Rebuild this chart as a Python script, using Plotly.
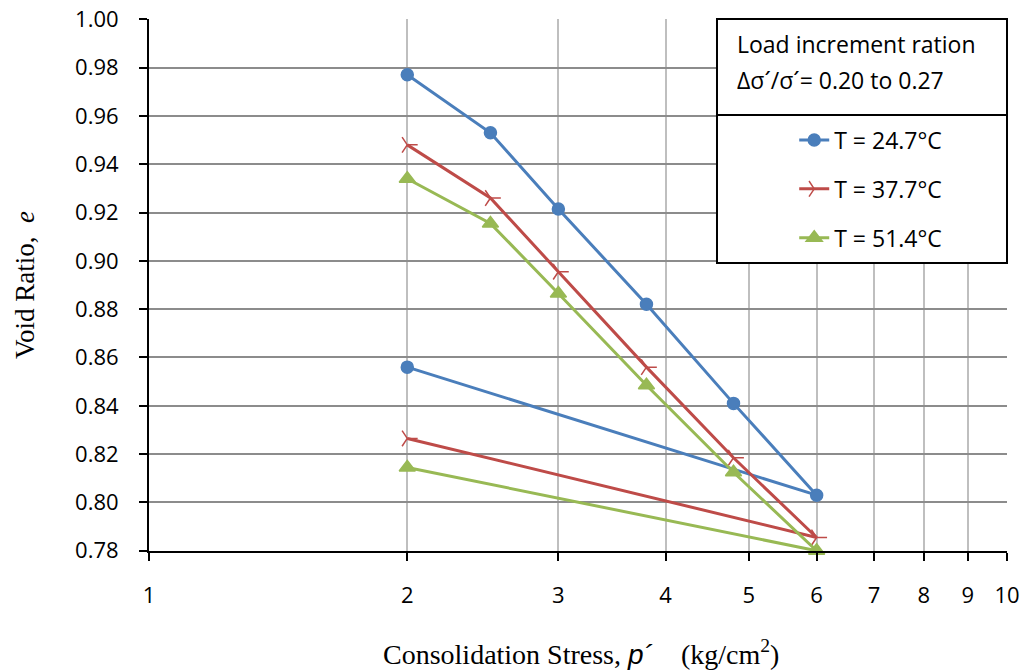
import plotly.graph_objects as go

# Data (loading path then unloading back to 2)
stress = [2, 2.5, 3, 3.8, 4.8, 6, 2]
e_247 = [0.977, 0.953, 0.9215, 0.882, 0.841, 0.803, 0.856]
e_377 = [0.948, 0.926, 0.8955, 0.856, 0.8185, 0.7855, 0.8265]
e_514 = [0.934, 0.9155, 0.8865, 0.8485, 0.8125, 0.780, 0.8145]
names = ["T = 24.7°C", "T = 37.7°C", "T = 51.4°C"]
x_ticks = [1, 2, 3, 4, 5, 6, 7, 8, 9, 10]
y_ticks = [0.78, 0.80, 0.82, 0.84, 0.86, 0.88, 0.90, 0.92, 0.94, 0.96, 0.98, 1.00]

colors = ["#4A7EBB", "#BE4B48", "#98B954"]
symbols = ["circle", "y-right-open", "triangle-up"]
sizes = [12, 13, 14]

fig = go.Figure()
for i, (ys, nm) in enumerate(zip([e_247, e_377, e_514], names)):
    fig.add_trace(go.Scatter(
        x=stress, y=ys, name=nm, mode="lines+markers",
        line=dict(color=colors[i], width=3),
        marker=dict(symbol=symbols[i], size=sizes[i], color=colors[i],
                    line=dict(color=colors[i], width=1.5)),
        cliponaxis=False, legendgroup=f"g{i}",
    ))

FONT = "Open Sans, Lato, sans-serif"
tick_font = dict(family=FONT, size=22, color="black")

fig.update_layout(
    width=1024, height=671,
    margin=dict(l=149, r=17, t=19, b=120, autoexpand=False),
    paper_bgcolor="white", plot_bgcolor="white",
    showlegend=True,
    legend=dict(
        x=0.752, y=0.813, xanchor="left", yanchor="top",
        bgcolor="rgba(0,0,0,0)", borderwidth=0,
        font=dict(family=FONT, size=23, color="black"),
        tracegroupgap=16, traceorder="grouped",
    ),
    xaxis=dict(
        type="log", range=[0, 1], tickvals=x_ticks, ticktext=[str(v) for v in x_ticks],
        showgrid=True, gridcolor="#BFBFBF", gridwidth=2,
        showline=True, linecolor="black", linewidth=2,
        ticks="outside", ticklen=8, tickcolor="black", tickwidth=2,
        tickfont=tick_font, ticklabelstandoff=16, zeroline=False, automargin=False,
    ),
    yaxis=dict(
        range=[0.7799, 1.0001], tickvals=y_ticks, tickformat=".2f",
        showgrid=True, gridcolor="#8C8C8C", gridwidth=2,
        showline=True, linecolor="black", linewidth=2,
        ticks="outside", ticklen=8, tickcolor="black", tickwidth=2,
        tickfont=tick_font, ticklabelstandoff=16, zeroline=False, automargin=False,
    ),
    shapes=[
        dict(type="rect", xref="paper", yref="paper", x0=0.662, x1=1.0,
             y0=0.8195, y1=1.0, fillcolor="white", line=dict(color="black", width=2), layer="above"),
        dict(type="rect", xref="paper", yref="paper", x0=0.662, x1=1.0,
             y0=0.5414, y1=0.8195, fillcolor="white", line=dict(color="black", width=2), layer="above"),
    ],
    annotations=[
        dict(text="Load increment ration", xref="paper", yref="paper",
             x=0.683, y=0.953, xanchor="left", yanchor="middle", align="left", showarrow=False,
             font=dict(family=FONT, size=23, color="black")),
        dict(text="Δσ´/σ´= 0.20 to 0.27", xref="paper", yref="paper",
             x=0.683, y=0.885, xanchor="left", yanchor="middle", align="left", showarrow=False,
             font=dict(family=FONT, size=23, color="black")),
        dict(text="Void Ratio,&nbsp;&nbsp;<i>e</i>", xref="paper", yref="paper", x=-0.1445, y=0.5,
             textangle=-90, showarrow=False, xanchor="center", yanchor="middle",
             font=dict(family="Liberation Serif, Times New Roman, serif", size=27, color="black")),
        dict(text="Consolidation Stress, <span style='font-family:Liberation Sans'><i>p´</i></span>&nbsp;&nbsp;&nbsp;&nbsp;(kg/cm<sup>2</sup>)",
             xref="paper", yref="paper", x=0.5035, y=-0.1917, showarrow=False,
             xanchor="center", yanchor="middle",
             font=dict(family="Liberation Serif, Times New Roman, serif", size=28, color="black")),
    ],
)

fig.write_html("out.html")
